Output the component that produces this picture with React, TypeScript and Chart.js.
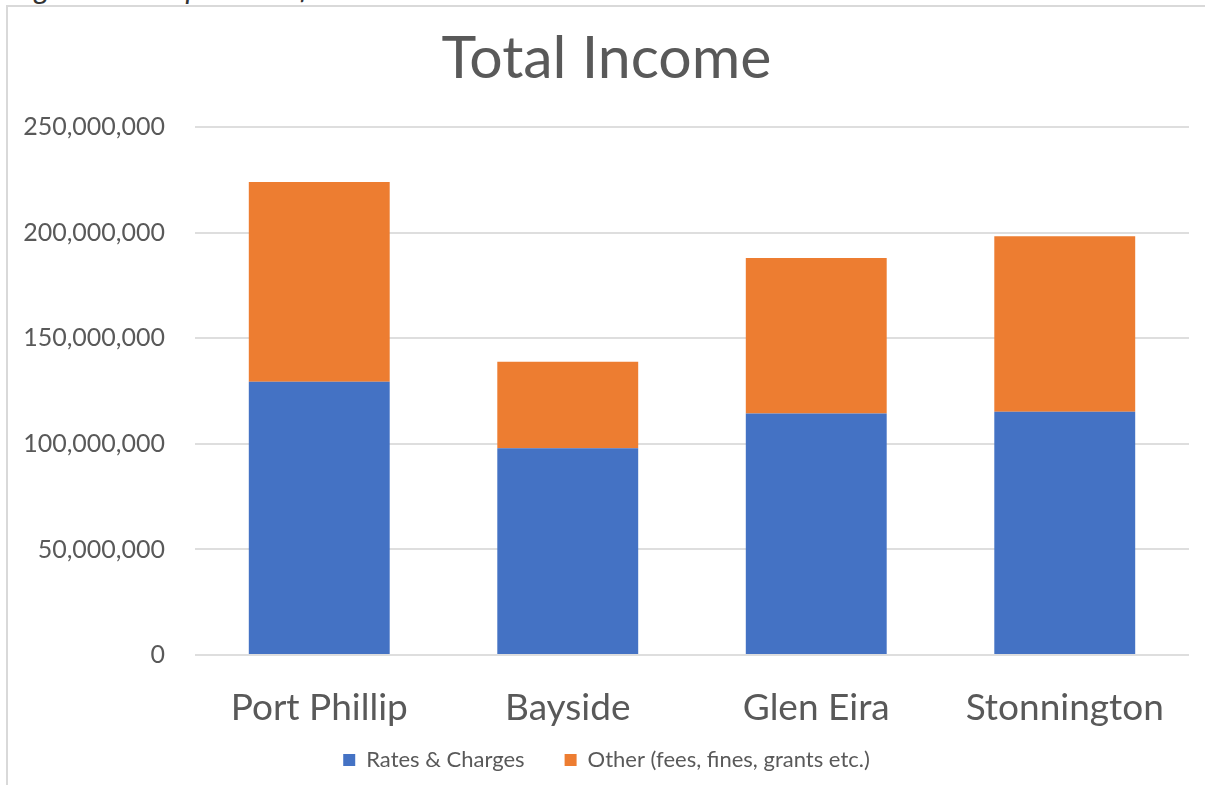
import React, { useEffect, useRef } from "react";
import { Chart, registerables } from "chart.js";

Chart.register(...registerables);

const categories: string[] = ["Port Phillip", "Bayside", "Glen Eira", "Stonnington"];
const ratesAndCharges: number[] = [129400000, 97900000, 114400000, 115200000];
const otherIncome: number[] = [94700000, 41000000, 73700000, 83200000];
const seriesNames: string[] = ["Rates & Charges", "Other (fees, fines, grants etc.)"];
const chartTitle = "Total Income";
const captionText = "Figure 1: Comparison of Total Income";

const FONT = "Lato, 'Open Sans', sans-serif";
const TEXT = "#595959";

// lets the category labels extend below the (short) x-axis box without clipping
const unclipXLabels = {
  id: "unclipXLabels",
  afterLayout(chart: any) {
    const x = chart.scales.x;
    if (x) x.bottom = x.top + 90;
  },
};

export default function App() {
  const canvasRef = useRef<HTMLCanvasElement | null>(null);

  useEffect(() => {
    if (!canvasRef.current) return;
    const chart = new Chart(canvasRef.current, {
      type: "bar",
      data: {
        labels: categories,
        datasets: [
          {
            label: seriesNames[0],
            data: ratesAndCharges,
            backgroundColor: "#4472C4",
            borderWidth: 0,
            categoryPercentage: 1,
            barPercentage: 0.567,
          },
          {
            label: seriesNames[1],
            data: otherIncome,
            backgroundColor: "#ED7D31",
            borderWidth: 0,
            categoryPercentage: 1,
            barPercentage: 0.567,
          },
        ],
      },
      options: {
        responsive: false,
        animation: false,
        maintainAspectRatio: false,
        layout: { padding: { left: 0, right: 0, top: 0, bottom: 4 } },
        plugins: {
          tooltip: { enabled: false },
          title: {
            display: true,
            text: chartTitle,
            color: TEXT,
            font: { family: FONT, size: 59, weight: "normal", lineHeight: 1.2 },
            padding: { top: 17, bottom: 32.5 },
          },
          legend: {
            display: true,
            position: "bottom",
            labels: {
              color: TEXT,
              boxWidth: 12,
              boxHeight: 12,
              padding: 40,
              font: { family: FONT, size: 22 },
            },
          },
        },
        scales: {
          x: {
            stacked: true,
            grid: { display: false, drawTicks: false },
            border: { display: false },
            ticks: {
              color: TEXT,
              padding: 31,
              font: { family: FONT, size: 37 },
            },
            afterFit: (s: any) => {
              s.height = 54;
            },
          },
          y: {
            stacked: true,
            min: 0,
            max: 250000000,
            grid: { color: "#dedede", lineWidth: 2, drawTicks: false },
            border: { display: false },
            ticks: {
              stepSize: 50000000,
              color: TEXT,
              padding: 30,
              font: { family: FONT, size: 25 },
              callback: (v: any) => Number(v).toLocaleString("en-US"),
            },
            afterFit: (s: any) => {
              s.width = 187;
            },
          },
          yRight: {
            type: "linear",
            position: "right",
            display: true,
            grid: { display: false, drawTicks: false },
            border: { display: false },
            ticks: { display: false },
            afterFit: (s: any) => {
              s.width = 16;
            },
          },
        },
      },
      plugins: [unclipXLabels],
    });
    return () => chart.destroy();
  }, []);

  return (
    <div
      style={{
        position: "fixed",
        left: 0,
        top: 0,
        width: 1205,
        height: 785,
        background: "#ffffff",
        overflow: "hidden",
      }}
    >
      <div
        style={{
          position: "absolute",
          left: 12,
          top: -28,
          fontFamily: FONT,
          fontStyle: "italic",
          fontSize: 30,
          lineHeight: "30px",
          color: "#333333",
          whiteSpace: "nowrap",
        }}
      >
        {captionText}
      </div>
      <div
        style={{
          position: "absolute",
          left: 6,
          top: 5,
          width: 1205,
          height: 790,
          borderLeft: "2px solid #d9d9d9",
          borderTop: "2px solid #d9d9d9",
          background: "#ffffff",
        }}
      />
      <canvas
        ref={canvasRef}
        width={1197}
        height={778}
        style={{ position: "absolute", left: 8, top: 7, width: 1197, height: 778 }}
      />
    </div>
  );
}
